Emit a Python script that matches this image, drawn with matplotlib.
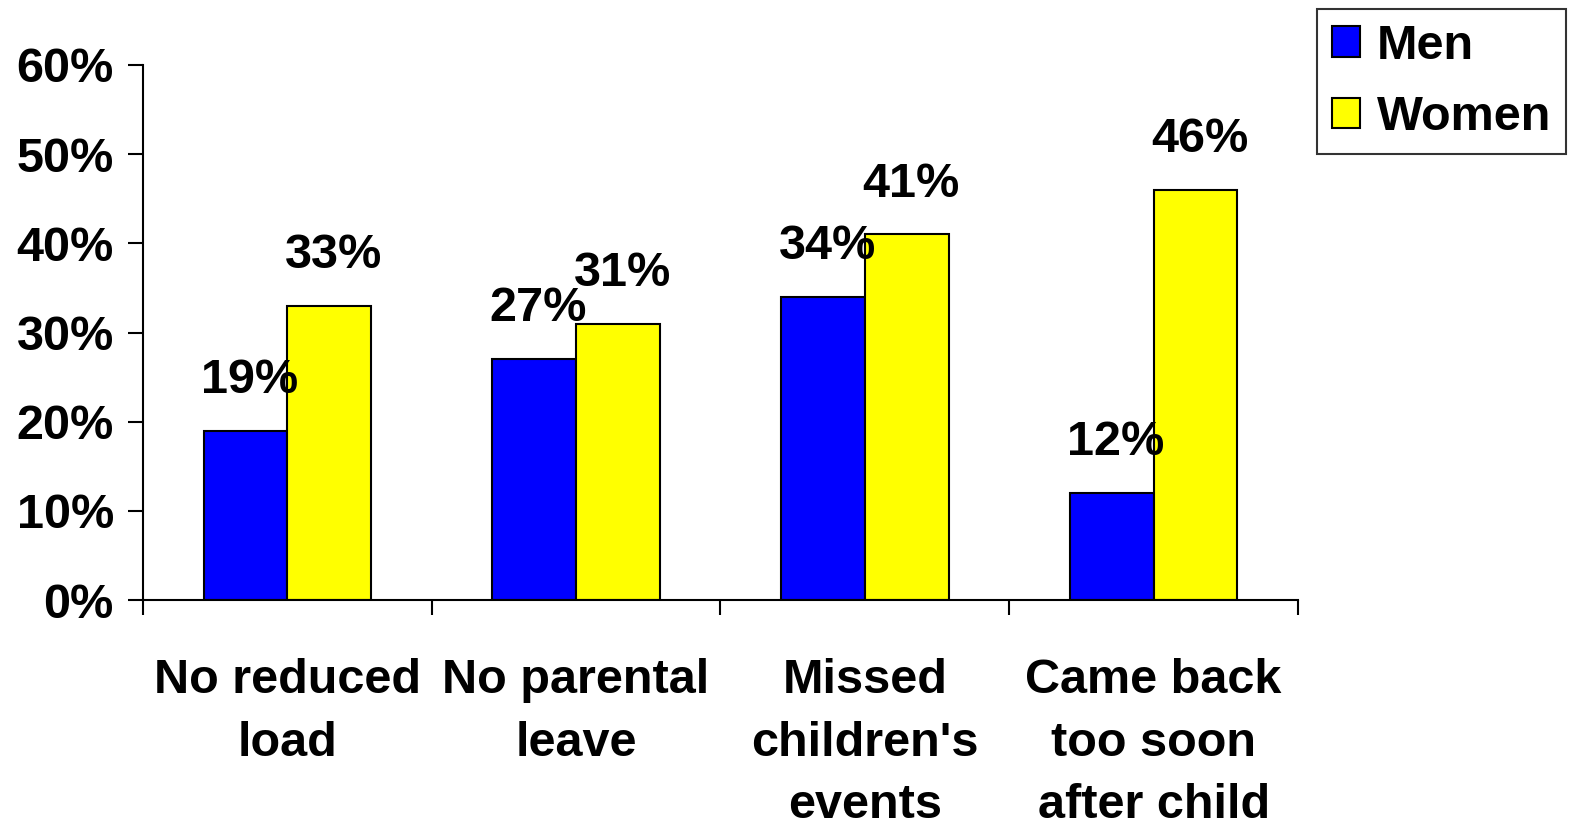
import matplotlib.pyplot as plt
import numpy as np
from matplotlib.ticker import FixedLocator, PercentFormatter

plt.rcParams['font.family'] = ['Liberation Sans', 'DejaVu Sans']
plt.rcParams['font.weight'] = 'bold'

categories = ['No reduced\nload', 'No parental\nleave', 'Missed\nchildren\'s\nevents',
              'Came back\ntoo soon\nafter child']
men = [19, 27, 34, 12]
women = [33, 31, 41, 46]

fig = plt.figure(figsize=(15.75, 8.25), dpi=100)
ax = fig.add_axes([143/1575, 1-600/825, 1155/1575, 535/825])

x = np.arange(len(categories))
w = 0.29
bm = ax.bar(x - w/2, men, w, color='#0000ff', edgecolor='black', linewidth=1.5, label='Men')
bw = ax.bar(x + w/2, women, w, color='#ffff00', edgecolor='black', linewidth=1.5, label='Women')

for bars, vals in ((bm, men), (bw, women)):
    for b, v in zip(bars, vals):
        ax.annotate('%d%%' % v, (b.get_x() + b.get_width()/2, v), xytext=(3, 20),
                    textcoords='offset points', ha='center', va='bottom',
                    fontsize=35, fontweight='bold')

ax.set_xlim(-0.5, len(categories) - 0.5)
ax.set_ylim(0, 60)
ax.set_yticks(range(0, 61, 10))
ax.yaxis.set_major_formatter(PercentFormatter(decimals=0))
ax.tick_params(axis='y', length=11, width=1.5, labelsize=35, pad=10)

ax.xaxis.set_major_locator(FixedLocator(np.arange(-0.5, len(categories), 1)))
ax.xaxis.set_minor_locator(FixedLocator(x))
ax.set_xticklabels([], minor=False)
ax.set_xticklabels(categories, minor=True, fontsize=35, linespacing=1.5)
ax.tick_params(axis='x', which='major', length=11, width=1.5)
ax.tick_params(axis='x', which='minor', length=0, pad=42)

for s in ['top', 'right']:
    ax.spines[s].set_visible(False)
for s in ['left', 'bottom']:
    ax.spines[s].set_linewidth(1.5)

leg = fig.legend(loc='upper right', bbox_to_anchor=(1566/1575, 1-9/825), fontsize=35,
                 frameon=True, fancybox=False, edgecolor='black', handlelength=0.58,
                 handleheight=0.58, handletextpad=0.35, borderpad=0.3, labelspacing=0.54,
                 borderaxespad=0)
leg.get_frame().set_linewidth(1.5)

fig.savefig('out.png', dpi=100)
